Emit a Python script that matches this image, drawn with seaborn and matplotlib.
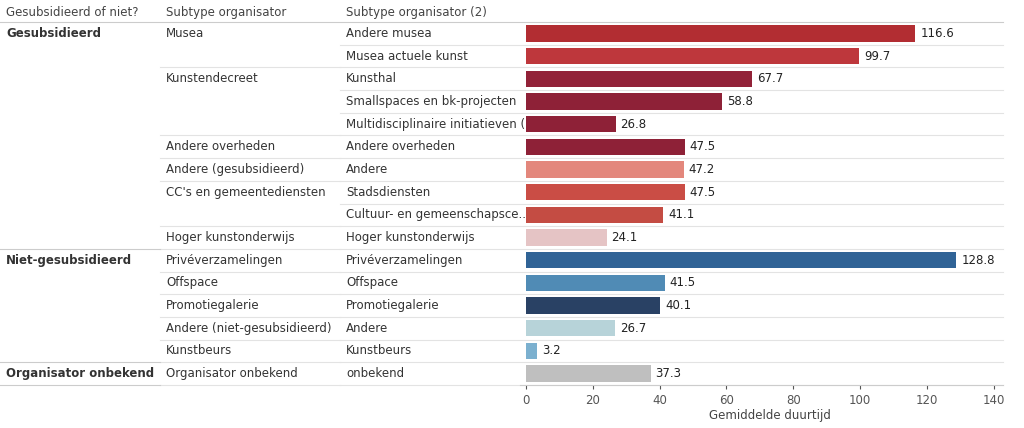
import numpy as np
import pandas as pd
import seaborn as sns
import matplotlib.pyplot as plt

groups = ["Gesubsidieerd"] * 10 + ["Niet-gesubsidieerd"] * 5 + ["Organisator onbekend"]
subtypes = ["Musea", "Musea", "Kunstendecreet", "Kunstendecreet", "Kunstendecreet",
            "Andere overheden", "Andere (gesubsidieerd)", "CC's en gemeentediensten",
            "CC's en gemeentediensten", "Hoger kunstonderwijs", "Privéverzamelingen",
            "Offspace", "Promotiegalerie", "Andere (niet-gesubsidieerd)", "Kunstbeurs",
            "Organisator onbekend"]
subtypes2 = ["Andere musea", "Musea actuele kunst", "Kunsthal", "Smallspaces en bk-projecten",
             "Multidisciplinaire initiatieven (k..", "Andere overheden", "Andere",
             "Stadsdiensten", "Cultuur- en gemeenschapsce..", "Hoger kunstonderwijs",
             "Privéverzamelingen", "Offspace", "Promotiegalerie", "Andere", "Kunstbeurs",
             "onbekend"]
values = [116.6, 99.7, 67.7, 58.8, 26.8, 47.5, 47.2, 47.5, 41.1, 24.1,
          128.8, 41.5, 40.1, 26.7, 3.2, 37.3]
colors = ["#c8171e", "#d42027", "#a50f2d", "#a00f2c", "#a00f2c", "#a00f2c", "#f4796b",
          "#e03a2f", "#d93a2e", "#ebbfc0", "#1f63a7", "#3f8ec6", "#1f3f6e", "#b2d6de",
          "#6db4dd", "#bfbfbf"]

W, H = 1024, 428
top, bottom = 22, 385
n = len(values)
rh = (bottom - top) / n

fig = plt.figure(figsize=(W / 100, H / 100), dpi=100)
ov = fig.add_axes([0, 0, 1, 1])
ov.set_xlim(0, W)
ov.set_ylim(H, 0)
ov.axis("off")

ax = fig.add_axes([520 / W, 1 - bottom / H, (1003 - 520) / W, (bottom - top) / H])
df = pd.DataFrame({"row": [str(i) for i in range(n)], "value": values})
sns.barplot(data=df, x="value", y="row", hue="row", palette=colors, legend=False,
            width=0.72, ax=ax, orient="h")
ax.set_xlim(-1.8, 142.8)
ax.set_ylim(n - 0.5, -0.5)
for i, v in enumerate(values):
    ax.text(v + 1.5, i, f"{v}", va="center", fontsize=8.5, color="#222222")
ax.set_yticks([])
ax.set_ylabel("")
ax.set_xlabel("")
ax.set_xticks(range(0, 141, 20))
ax.tick_params(axis="x", labelsize=8.5, colors="#555555", length=3)
for s in ["top", "right", "left"]:
    ax.spines[s].set_visible(False)
ax.spines["bottom"].set_color("#cccccc")
ax.patch.set_alpha(0)

fs = 8.5
# headers
ov.text(6, 12, "Gesubsidieerd of niet?", fontsize=fs, va="center", color="#444444")
ov.text(166, 12, "Subtype organisator", fontsize=fs, va="center", color="#444444")
ov.text(346, 12, "Subtype organisator (2)", fontsize=fs, va="center", color="#444444")
ov.plot([0, 1003], [top, top], color="#cccccc", lw=0.8)

for i in range(n):
    yc = top + (i + 0.5) * rh
    yb = top + (i + 1) * rh
    ov.text(346, yc, subtypes2[i], fontsize=fs, va="center", color="#333333")
    ov.plot([340, 1003], [yb, yb], color="#e3e3e3", lw=0.8)
    if i == 0 or subtypes[i] != subtypes[i - 1]:
        ov.text(166, yc, subtypes[i], fontsize=fs, va="center", color="#333333")
    if i == n - 1 or subtypes[i] != subtypes[i + 1]:
        ov.plot([160, 340], [yb, yb], color="#e3e3e3", lw=0.8)
    if i == 0 or groups[i] != groups[i - 1]:
        ov.text(6, yc, groups[i], fontsize=fs, va="center", fontweight="bold", color="#333333")
    if i == n - 1 or groups[i] != groups[i + 1]:
        ov.plot([0, 160], [yb, yb], color="#cccccc", lw=0.8)

ov.text(770, 415, "Gemiddelde duurtijd", fontsize=fs, va="center", ha="center", color="#444444")

fig.savefig("out.png", dpi=100)
